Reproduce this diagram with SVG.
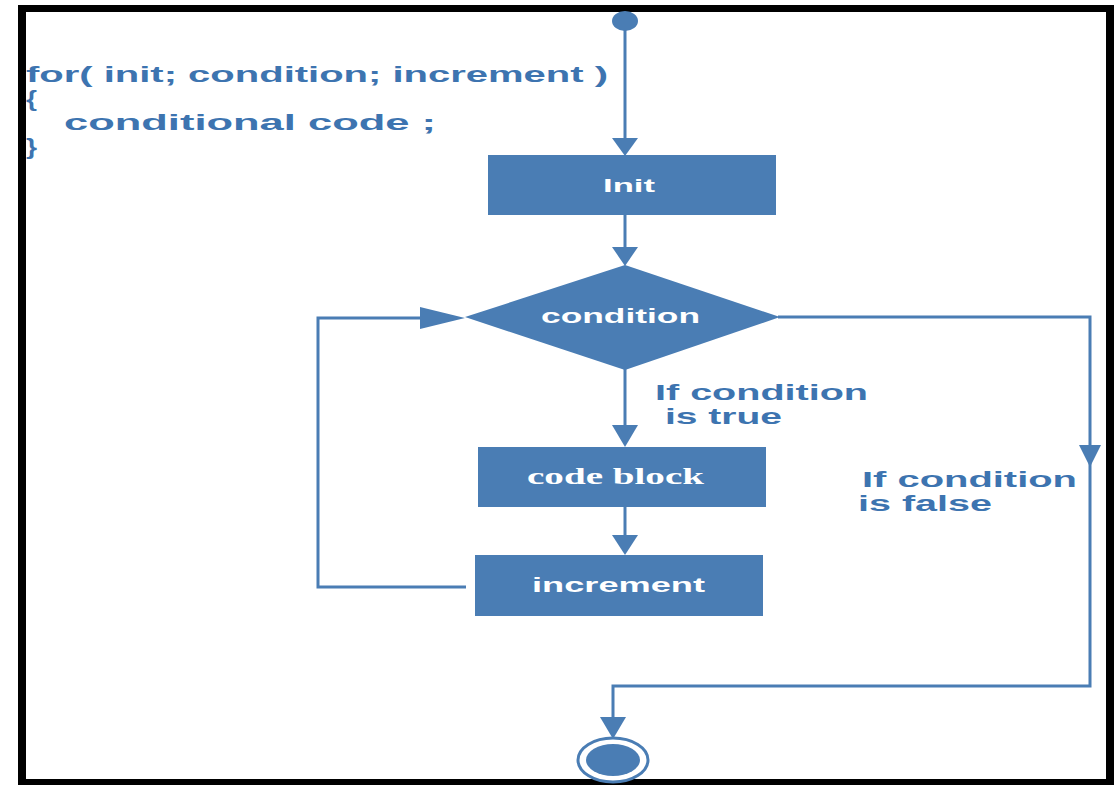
<svg xmlns="http://www.w3.org/2000/svg" width="1120" height="785" viewBox="0 0 1120 785">
<defs>
<style>
.box{fill:#4a7db4;}
.ln{fill:none;stroke:#4a7db4;stroke-width:3;}
.ah{fill:#4a7db4;}
.wt{fill:#ffffff;font-family:"Liberation Sans",Arial,sans-serif;font-weight:bold;}
.wts{fill:#ffffff;font-family:"Liberation Serif","Times New Roman",serif;font-weight:bold;}
.bl{fill:#3d74b0;font-family:"Liberation Sans",Arial,sans-serif;font-weight:bold;}
</style>
</defs>
<rect x="0" y="0" width="1120" height="785" fill="#ffffff"/>
<path d="M18 5H1114V785H18Z M26 12V779H1106V12Z" fill="#000000" fill-rule="evenodd"/>
<g id="code">
<text class="bl" x="26" y="82" font-size="22" textLength="582" lengthAdjust="spacingAndGlyphs">for( init; condition; increment )</text>
<text class="bl" x="26" y="106" font-size="22" textLength="11" lengthAdjust="spacingAndGlyphs">{</text>
<text class="bl" x="64" y="130" font-size="22" textLength="372" lengthAdjust="spacingAndGlyphs">conditional code ;</text>
<text class="bl" x="26" y="154" font-size="22" textLength="11" lengthAdjust="spacingAndGlyphs">}</text>
</g>
<g id="connectors">
<line class="ln" x1="625" y1="28" x2="625" y2="140"/>
<polygon class="ah" points="612,138 638,138 625,156"/>
<line class="ln" x1="625" y1="215" x2="625" y2="250"/>
<polygon class="ah" points="612,247 638,247 625,266"/>
<line class="ln" x1="625" y1="368" x2="625" y2="428"/>
<polygon class="ah" points="612,425 638,425 625,447"/>
<line class="ln" x1="625" y1="507" x2="625" y2="537"/>
<polygon class="ah" points="612,535 638,535 625,555"/>
<polyline class="ln" points="466,587 318,587 318,318 425,318"/>
<polygon class="ah" points="420,307 420,329 465,318"/>
<polyline class="ln" points="778,317 1090,317 1090,686 613,686 613,720"/>
<polygon class="ah" points="1079,445 1101,445 1090,467"/>
<polygon class="ah" points="600,717 626,717 613,739"/>
</g>
<g id="start">
<ellipse class="ah" cx="625" cy="21" rx="13" ry="10"/>
</g>
<g id="init">
<rect class="box" x="488" y="155" width="288" height="60"/>
<text class="wt" x="603" y="192" font-size="19" textLength="52" lengthAdjust="spacingAndGlyphs">Init</text>
</g>
<g id="condition">
<polygon class="box" points="625,265 780,317 625,370 465,317"/>
<text class="wt" x="541" y="323" font-size="20" textLength="159" lengthAdjust="spacingAndGlyphs">condition</text>
</g>
<g id="code-block">
<rect class="box" x="478" y="447" width="288" height="60"/>
<text class="wts" x="527" y="484" font-size="23" textLength="177" lengthAdjust="spacingAndGlyphs">code block</text>
</g>
<g id="increment">
<rect class="box" x="475" y="555" width="288" height="61"/>
<text class="wt" x="532" y="592" font-size="20" textLength="173" lengthAdjust="spacingAndGlyphs">increment</text>
</g>
<g id="labels">
<text class="bl" x="655" y="400" font-size="22" textLength="213" lengthAdjust="spacingAndGlyphs">If condition</text>
<text class="bl" x="665" y="424" font-size="22" textLength="117" lengthAdjust="spacingAndGlyphs">is true</text>
<text class="bl" x="862" y="487" font-size="22" textLength="215" lengthAdjust="spacingAndGlyphs">If condition</text>
<text class="bl" x="858" y="511" font-size="22" textLength="134" lengthAdjust="spacingAndGlyphs">is false</text>
</g>
<g id="end">
<ellipse cx="613" cy="760" rx="35" ry="22" fill="#ffffff" stroke="#4a7db4" stroke-width="3"/>
<ellipse class="ah" cx="613" cy="760" rx="27" ry="16" fill="#3a72b0"/>
</g>
</svg>
